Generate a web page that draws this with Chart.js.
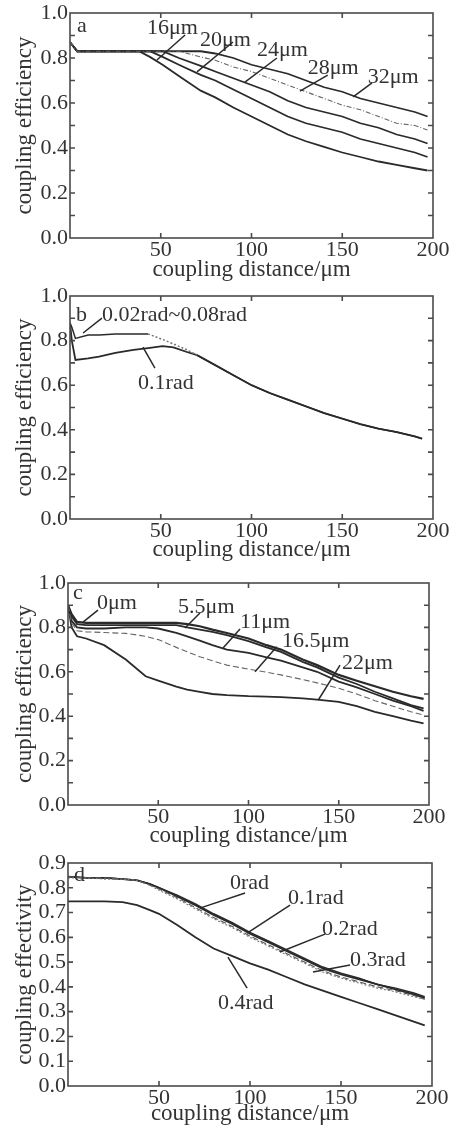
<!DOCTYPE html>
<html>
<head>
<meta charset="utf-8">
<script src="https://cdn.jsdelivr.net/npm/chart.js@4.4.1/dist/chart.umd.min.js"></script>
<style>
  html, body { margin: 0; padding: 0; background: #fff; overflow: hidden; }
  #root { position: relative; width: 462px; height: 1129px; }
  canvas { position: absolute; left: 0; }
</style>
</head>
<body>
<div id="root"></div>
<script>
// ---- data ----
const x_ticks = [50, 100, 150, 200]
const y_ticks_1 = [0, 0.2, 0.4, 0.6, 0.8, 1.0]
const y_minor_1 = [0.1, 0.2, 0.3, 0.4, 0.5, 0.6, 0.7, 0.8, 0.9]
const y_ticks_d = [0, 0.1, 0.2, 0.3, 0.4, 0.5, 0.6, 0.7, 0.8, 0.9]
const y_minor_d = [0.1, 0.2, 0.3, 0.4, 0.5, 0.6, 0.7, 0.8]

// a: core diameter
const x_a   = [0, 2, 4, 10, 20, 30, 38, 44, 51, 60, 72, 80, 90, 100, 110, 120, 130, 140, 150, 160, 170, 180, 190, 197]
const a_16  = [0.87, 0.85, 0.83, 0.83, 0.83, 0.83, 0.83, 0.805, 0.77, 0.72, 0.655, 0.625, 0.58, 0.54, 0.50, 0.46, 0.43, 0.405, 0.38, 0.36, 0.34, 0.325, 0.31, 0.30]
const a_20  = [0.87, 0.85, 0.83, 0.83, 0.83, 0.83, 0.83, 0.83, 0.805, 0.77, 0.725, 0.70, 0.66, 0.62, 0.58, 0.54, 0.51, 0.49, 0.47, 0.44, 0.42, 0.40, 0.38, 0.36]
const a_24  = [0.87, 0.85, 0.83, 0.83, 0.83, 0.83, 0.83, 0.83, 0.83, 0.80, 0.765, 0.74, 0.71, 0.68, 0.65, 0.61, 0.58, 0.56, 0.54, 0.51, 0.49, 0.46, 0.44, 0.42]
const a_28  = [0.87, 0.85, 0.83, 0.83, 0.83, 0.83, 0.83, 0.83, 0.83, 0.83, 0.805, 0.79, 0.76, 0.74, 0.71, 0.68, 0.65, 0.62, 0.59, 0.57, 0.54, 0.51, 0.50, 0.48]
const a_32  = [0.87, 0.85, 0.83, 0.83, 0.83, 0.83, 0.83, 0.83, 0.83, 0.83, 0.83, 0.82, 0.80, 0.77, 0.75, 0.73, 0.70, 0.67, 0.65, 0.62, 0.60, 0.58, 0.56, 0.54]

// b: tilt angle
const x_b     = [0, 1, 3, 10, 16, 25, 35, 43, 51, 57, 64, 70, 80, 90, 100, 110, 120, 130, 140, 150, 160, 170, 180, 190, 194]
const b_small = [0.88, 0.86, 0.81, 0.825, 0.825, 0.83, 0.83, 0.83, 0.805, 0.785, 0.76, 0.735, 0.69, 0.645, 0.60, 0.565, 0.535, 0.505, 0.475, 0.45, 0.425, 0.405, 0.39, 0.37, 0.36]
const b_01    = [0.88, 0.80, 0.713, 0.72, 0.728, 0.745, 0.758, 0.766, 0.775, 0.77, 0.75, 0.735, 0.69, 0.645, 0.60, 0.565, 0.535, 0.505, 0.475, 0.45, 0.425, 0.405, 0.39, 0.37, 0.36]

// c: lateral offset
const x_c   = [0, 2, 5, 10, 20, 32, 43, 50, 60, 66, 73, 80, 88, 100, 110, 118, 130, 138, 150, 160, 170, 180, 190, 197]
const c_0   = [0.90, 0.86, 0.825, 0.82, 0.82, 0.82, 0.82, 0.82, 0.82, 0.815, 0.805, 0.79, 0.775, 0.75, 0.72, 0.70, 0.655, 0.63, 0.586, 0.56, 0.535, 0.51, 0.49, 0.478]
const c_55  = [0.90, 0.85, 0.815, 0.81, 0.81, 0.81, 0.81, 0.81, 0.81, 0.80, 0.79, 0.78, 0.765, 0.738, 0.71, 0.69, 0.645, 0.62, 0.574, 0.545, 0.51, 0.48, 0.45, 0.435]
const c_11  = [0.90, 0.83, 0.80, 0.795, 0.795, 0.80, 0.80, 0.795, 0.775, 0.76, 0.74, 0.72, 0.70, 0.685, 0.665, 0.65, 0.62, 0.60, 0.556, 0.53, 0.50, 0.47, 0.445, 0.424]
const c_165 = [0.90, 0.82, 0.785, 0.78, 0.777, 0.773, 0.76, 0.745, 0.71, 0.69, 0.668, 0.65, 0.63, 0.612, 0.598, 0.586, 0.565, 0.55, 0.526, 0.50, 0.47, 0.445, 0.42, 0.405]
const c_22  = [0.90, 0.80, 0.76, 0.75, 0.72, 0.655, 0.58, 0.56, 0.533, 0.52, 0.51, 0.50, 0.495, 0.49, 0.488, 0.486, 0.48, 0.475, 0.465, 0.445, 0.42, 0.40, 0.38, 0.368]

// d: tilt angle, second fibre
const x_d   = [0, 10, 20, 30, 38, 45, 50, 60, 70, 80, 90, 100, 110, 120, 130, 140, 150, 160, 170, 180, 190, 196]
const d_00  = [0.845, 0.84, 0.84, 0.835, 0.83, 0.815, 0.80, 0.765, 0.73, 0.69, 0.655, 0.615, 0.58, 0.545, 0.51, 0.475, 0.45, 0.43, 0.41, 0.39, 0.37, 0.355]
const d_01  = [0.845, 0.84, 0.84, 0.835, 0.83, 0.81, 0.795, 0.76, 0.72, 0.68, 0.645, 0.605, 0.57, 0.535, 0.50, 0.465, 0.44, 0.42, 0.40, 0.385, 0.365, 0.35]
const d_02  = [0.84, 0.84, 0.835, 0.835, 0.83, 0.81, 0.79, 0.755, 0.715, 0.675, 0.64, 0.60, 0.565, 0.53, 0.495, 0.46, 0.435, 0.415, 0.395, 0.38, 0.36, 0.35]
const d_03  = [0.845, 0.84, 0.84, 0.835, 0.83, 0.815, 0.80, 0.77, 0.735, 0.695, 0.66, 0.62, 0.585, 0.55, 0.515, 0.48, 0.455, 0.435, 0.41, 0.395, 0.375, 0.36]
const d_04  = [0.745, 0.745, 0.745, 0.742, 0.73, 0.71, 0.695, 0.65, 0.60, 0.555, 0.525, 0.495, 0.47, 0.44, 0.41, 0.385, 0.36, 0.335, 0.31, 0.285, 0.26, 0.245]

// in-plot notes: text, x, y, then leader line x1,y1,x2,y2 (data units)
const note_a = [
  ['a', 3.9, 0.94],
  ['16μm', 42.4, 0.933, 63.4, 0.902, 47.9, 0.791],
  ['20μm', 71.6, 0.88, 89.8, 0.871, 70, 0.738],
  ['24μm', 103, 0.836, 114, 0.80, 96.4, 0.693],
  ['28μm', 131, 0.756, 142, 0.724, 126.7, 0.653],
  ['32μm', 164, 0.716, 166.4, 0.689, 156, 0.627]
]
const note_b = [
  ['b', 3.3, 0.915],
  ['0.02rad~0.08rad', 17.6, 0.915, 17.6, 0.901, 7.2, 0.834],
  ['0.1rad', 37.5, 0.61, 46.8, 0.677, 40.2, 0.771]
]
const note_c = [
  ['c', 2.8, 0.955],
  ['0μm', 16, 0.91, 16.6, 0.878, 8.3, 0.824],
  ['5.5μm', 61, 0.892, 73.1, 0.865, 64.8, 0.797],
  ['11μm', 95.3, 0.824, 95.3, 0.793, 85.9, 0.707],
  ['16.5μm', 118.6, 0.739, 115.6, 0.713, 103.6, 0.60],
  ['22μm', 151.8, 0.64, 150.7, 0.63, 138.7, 0.473]
]
const note_d = [
  ['d', 3.3, 0.851],
  ['0rad', 89, 0.819, 97.3, 0.779, 72.5, 0.718],
  ['0.1rad', 120.9, 0.759, 122, 0.73, 98.4, 0.617],
  ['0.2rad', 139.6, 0.634, 141.2, 0.613, 116.5, 0.541],
  ['0.3rad', 155, 0.508, 155, 0.488, 134.6, 0.46],
  ['0.4rad', 82.4, 0.335, 98.4, 0.395, 87.9, 0.52]
]

const app = document.getElementById('root')
const serif = "'Liberation Serif', 'DejaVu Serif', serif"
const ink = '#333'
const dark = '#2a2a2a'

// box, inner ticks and notes
const frame_plugin = {
  id: 'frame',
  afterDatasetsDraw(chart, args, opts) {
    const ctx = chart.ctx
    const area = chart.chartArea
    const xs = chart.scales.x
    const ys = chart.scales.y
    ctx.save()
    ctx.strokeStyle = '#4a4a4a'
    ctx.lineWidth = 1.6
    ctx.strokeRect(area.left, area.top, area.right - area.left, area.bottom - area.top)
    ctx.beginPath()
    opts.minor.forEach(v => {
      const py = ys.getPixelForValue(v)
      ctx.moveTo(area.left, py); ctx.lineTo(area.left + 5, py)
      ctx.moveTo(area.right, py); ctx.lineTo(area.right - 5, py)
    })
    x_ticks.slice(0, 3).forEach(v => {
      const px = xs.getPixelForValue(v)
      ctx.moveTo(px, area.bottom); ctx.lineTo(px, area.bottom - 5)
      ctx.moveTo(px, area.top); ctx.lineTo(px, area.top + 5)
    })
    ctx.stroke()

    ctx.font = '22px ' + serif
    ctx.fillStyle = ink
    ctx.textAlign = 'left'
    ctx.textBaseline = 'middle'
    ctx.strokeStyle = dark
    ctx.lineWidth = 1.5
    opts.notes.forEach(n => {
      ctx.fillText(n[0], xs.getPixelForValue(n[1]), ys.getPixelForValue(n[2]))
      if (n.length > 3) {
        ctx.beginPath()
        ctx.moveTo(xs.getPixelForValue(n[3]), ys.getPixelForValue(n[4]))
        ctx.lineTo(xs.getPixelForValue(n[5]), ys.getPixelForValue(n[6]))
        ctx.stroke()
      }
    })
    ctx.restore()
  }
}

function make_panel(p) {
  const canvas = document.createElement('canvas')
  canvas.width = 462
  canvas.height = p.height
  canvas.style.top = p.top + 'px'
  canvas.style.width = '462px'
  canvas.style.height = p.height + 'px'
  app.appendChild(canvas)

  const datasets = p.series.map(s => ({
    label: s.name,
    data: p.x.map((x, i) => ({ x: x, y: s.values[i] })),
    borderColor: s.color || dark,
    borderWidth: s.width || 1.8,
    borderDash: s.dash || [],
    segment: s.segment || {},
    pointRadius: 0,
    tension: 0,
    fill: false
  }))

  return new Chart(canvas.getContext('2d'), {
    type: 'line',
    data: { datasets: datasets },
    options: {
      responsive: false,
      animation: false,
      layout: { padding: { top: 13, right: p.right, left: 0, bottom: 0 } },
      plugins: {
        legend: { display: false },
        tooltip: { enabled: false },
        frame: { minor: p.minor, notes: p.notes }
      },
      scales: {
        x: {
          type: 'linear', min: 0, max: 200,
          grid: { display: false, drawTicks: false },
          border: { display: false },
          afterBuildTicks: s => { s.ticks = x_ticks.map(v => ({ value: v })) },
          afterFit: s => { s.height = p.xh },
          ticks: { color: ink, padding: 1, maxRotation: 0, autoSkip: false, font: { family: serif, size: 22, lineHeight: 1 } },
          title: { display: true, text: 'coupling distance/μm', color: ink, font: { family: serif, size: 23, lineHeight: 1 }, padding: { top: 0, bottom: p.tpb } }
        },
        y: {
          type: 'linear', min: 0, max: p.ymax,
          grid: { display: false, drawTicks: false },
          border: { display: false },
          afterBuildTicks: s => { s.ticks = p.yticks.map(v => ({ value: v })) },
          afterFit: s => { s.width = p.left },
          ticks: { color: ink, padding: 2, autoSkip: false, font: { family: serif, size: 22, lineHeight: 1 }, callback: v => v.toFixed(1) },
          title: { display: true, text: p.ytitle, color: ink, font: { family: serif, size: 23, lineHeight: 1 }, padding: { top: 13, bottom: 0 } }
        }
      }
    },
    plugins: [frame_plugin]
  })
}

make_panel({
  top: 0, height: 283, left: 70, right: 29, xh: 45, tpb: 1.5,
  ymax: 1.0, yticks: y_ticks_1, minor: y_minor_1, ytitle: 'coupling efficiency',
  x: x_a, notes: note_a,
  series: [
    { name: '28μm', values: a_28, color: '#666', width: 1.1, dash: [5, 2, 1, 2] },
    { name: '16μm', values: a_16 },
    { name: '20μm', values: a_20 },
    { name: '24μm', values: a_24 },
    { name: '32μm', values: a_32 }
  ]
})

make_panel({
  top: 283, height: 281, left: 70, right: 29, xh: 45, tpb: 3,
  ymax: 1.0, yticks: y_ticks_1, minor: y_minor_1, ytitle: 'coupling efficiency',
  x: x_b, notes: note_b,
  series: [
    { name: '0.02rad~0.08rad', values: b_small, width: 1.5,
      segment: { borderDash: c => (c.p0.parsed.x >= 43 && c.p0.parsed.x < 70 ? [2, 2] : undefined),
                 borderColor: c => (c.p0.parsed.x >= 43 && c.p0.parsed.x < 70 ? '#777' : undefined) } },
    { name: '0.1rad', values: b_01 }
  ]
})

make_panel({
  top: 570, height: 280, left: 68, right: 33, xh: 45, tpb: 3,
  ymax: 1.0, yticks: y_ticks_1, minor: y_minor_1, ytitle: 'coupling efficiency',
  x: x_c, notes: note_c,
  series: [
    { name: '16.5μm', values: c_165, color: '#666', width: 1.1, dash: [6, 3] },
    { name: '22μm', values: c_22 },
    { name: '11μm', values: c_11 },
    { name: '5.5μm', values: c_55 },
    { name: '0μm', values: c_0, width: 2.2 }
  ]
})

make_panel({
  top: 850, height: 279, left: 68, right: 30, xh: 43, tpb: 3.5,
  ymax: 0.9, yticks: y_ticks_d, minor: y_minor_d, ytitle: 'coupling effectivity',
  x: x_d, notes: note_d,
  series: [
    { name: '0.2rad', values: d_02, color: '#777', width: 1.1, dash: [2, 2] },
    { name: '0.1rad', values: d_01, color: '#555', width: 1.1, dash: [6, 3] },
    { name: '0.3rad', values: d_03, width: 1.5 },
    { name: '0rad', values: d_00 },
    { name: '0.4rad', values: d_04 }
  ]
})
</script>
</body>
</html>
